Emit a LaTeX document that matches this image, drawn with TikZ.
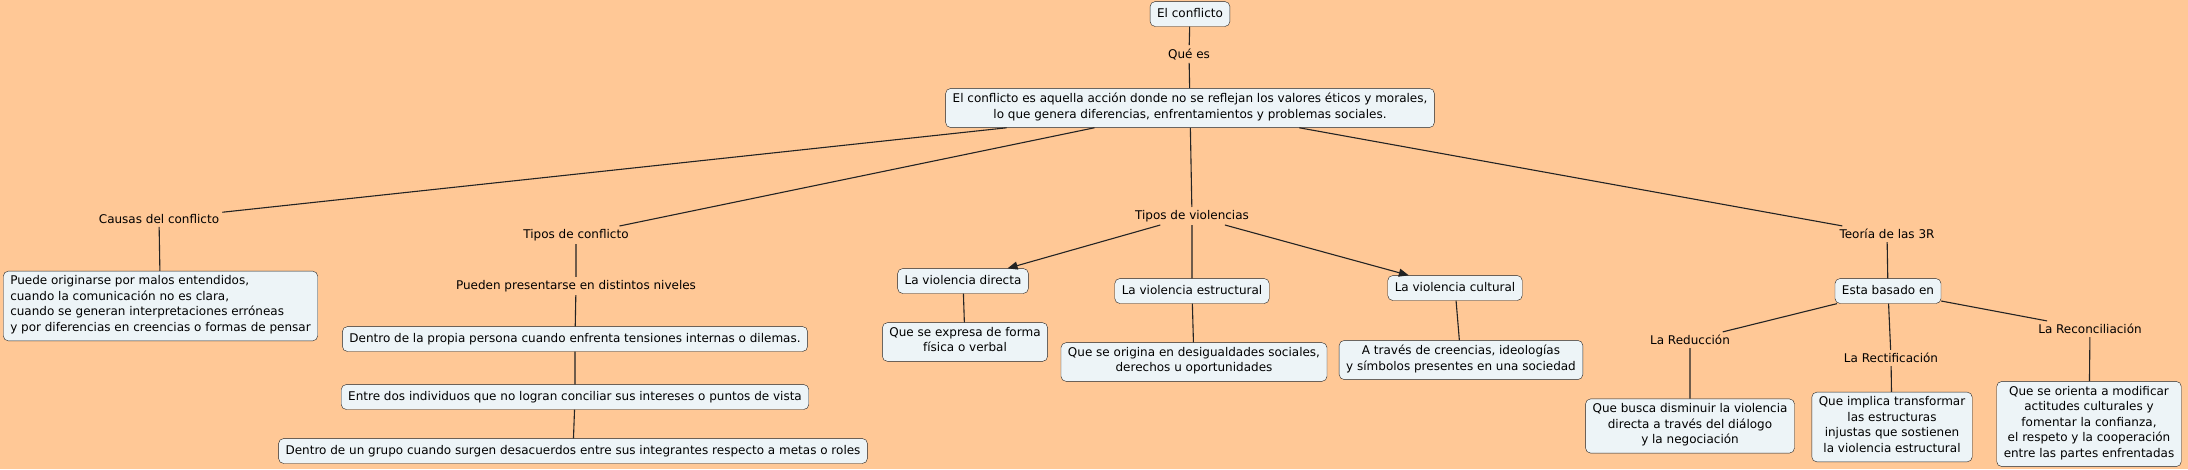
\documentclass[tikz,border=0pt]{standalone}
\usepackage{fontspec}
\setmainfont{DejaVu Sans}
\usetikzlibrary{arrows.meta}

\definecolor{peach}{RGB}{255,200,150}
\definecolor{boxfill}{RGB}{237,244,247}
\definecolor{ink}{RGB}{35,35,35}

\tikzset{
  concept/.style={draw=ink,fill=boxfill,rounded corners=5pt,inner xsep=7pt,inner ysep=4.7pt,align=center,
    execute at begin node=\strut,execute at end node=\strut},
  linkph/.style={inner sep=3pt,align=center},
  conn/.style={draw=ink,line width=1.1pt},
  arr/.style={conn,-{Triangle[length=10pt,width=8pt]}}
}

\begin{document}
\begin{tikzpicture}[x=1pt,y=-1pt,font=\fontsize{12}{15.5}\selectfont]
      \fill[peach] (0,0) rectangle (2188,469);
      \useasboundingbox (0,0) rectangle (2188,469);

      \node[concept] (top) at (1190,14) {El conflicto};
      \node[linkph] (quees) at (1189,54) {Qué es};
      \node[concept] (main) at (1190,108) {El conflicto es aquella acción donde no se reflejan los valores éticos y morales,\\ lo que genera diferencias, enfrentamientos y problemas sociales.};

      \node[linkph] (causas) at (159,219) {Causas del conflicto};
      \node[concept,align=left] (causasbox) at (160.5,306) {Puede originarse por malos entendidos,\\ cuando la comunicación no es clara,\\ cuando se generan interpretaciones erróneas\\ y por diferencias en creencias o formas de pensar};

      \node[linkph] (tiposc) at (576,235) {Tipos de conflicto};
      \node[linkph] (niveles) at (576,286) {Pueden presentarse en distintos niveles};
      \node[concept] (persona) at (575,339) {Dentro de la propia persona cuando enfrenta tensiones internas o dilemas.};
      \node[concept] (dos) at (575,397) {Entre dos individuos que no logran conciliar sus intereses o puntos de vista};
      \node[concept] (grupo) at (573,451) {Dentro de un grupo cuando surgen desacuerdos entre sus integrantes respecto a metas o roles};

      \node[linkph] (tiposv) at (1192,216) {Tipos de violencias};
      \node[concept] (directa) at (963,281) {La violencia directa};
      \node[concept] (expresa) at (965,342) {Que se expresa de forma\\ física o verbal};
      \node[concept] (estruct) at (1192,291) {La violencia estructural};
      \node[concept] (origina) at (1194,362) {Que se origina en desigualdades sociales,\\ derechos u oportunidades};
      \node[concept] (cultural) at (1455,288) {La violencia cultural};
      \node[concept] (traves) at (1461,360) {A través de creencias, ideologías\\ y símbolos presentes en una sociedad};

      \node[linkph] (teoria) at (1887,234) {Teoría de las 3R};
      \node[concept] (basado) at (1888,291) {Esta basado en};
      \node[linkph] (reduc) at (1690,340) {La Reducción};
      \node[linkph] (rectif) at (1891,358) {La Rectificación};
      \node[linkph] (reconc) at (2090,329) {La Reconciliación};
      \node[concept] (busca) at (1690,426) {Que busca disminuir la violencia\\ directa a través del diálogo\\ y la negociación};
      \node[concept] (implica) at (1892,427) {Que implica transformar\\ las estructuras\\ injustas que sostienen\\ la violencia estructural};
      \node[concept] (orienta) at (2089,424) {Que se orienta a modificar\\ actitudes culturales y\\ fomentar la confianza,\\ el respeto y la cooperación\\ entre las partes enfrentadas};

      \draw[conn] (top) -- (quees) -- (main);
      \draw[conn] (main) -- (causas) -- (causasbox);
      \draw[conn] (main) -- (tiposc) -- (niveles) -- (persona) -- (dos) -- (grupo);
      \draw[conn] (main) -- (tiposv) -- (estruct);
      \draw[arr] (tiposv) -- (directa);
      \draw[arr] (tiposv) -- (cultural);
      \draw[conn] (directa) -- (expresa);
      \draw[conn] (estruct) -- (origina);
      \draw[conn] (cultural) -- (traves);
      \draw[conn] (main) -- (teoria) -- (basado);
      \draw[conn] (basado) -- (reduc) -- (busca);
      \draw[conn] (basado) -- (rectif) -- (implica);
      \draw[conn] (basado) -- (reconc) -- (orienta);
    \end{tikzpicture}
\end{document}
